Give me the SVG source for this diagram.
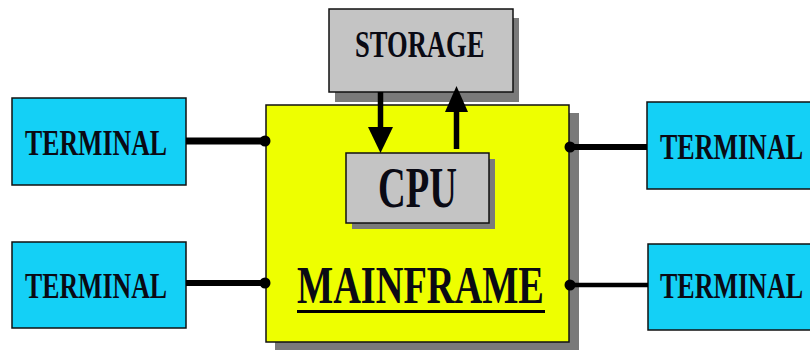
<svg xmlns="http://www.w3.org/2000/svg" width="810" height="358" viewBox="0 0 810 358">
  <style>
    .box { stroke: #111; stroke-width: 1.5; }
    .term { fill: #14D0F6; }
    .gray { fill: #C4C4C4; }
    .main { fill: #EEFF00; }
    .shadow { fill: #7A7A7A; }
    .lbl { font-family: "Liberation Serif", "Times New Roman", serif; font-weight: bold; fill: #0a0a14; }
    .wire { stroke: #000; fill: none; }
    .dot, .tip { fill: #000; }
  </style>
  <rect width="810" height="358" fill="#fff"/>

  <g id="mainframe">
    <rect class="shadow" x="275" y="113" width="304" height="237"/>
    <rect class="box main" x="266" y="105" width="303" height="237"/>
    <text class="lbl" font-size="53" transform="translate(297,303) scale(0.723,1)">MAINFRAME</text>
    <rect x="297" y="310" width="248" height="3" fill="#000"/>
  </g>

  <g id="storage">
    <rect class="shadow" x="335" y="18" width="184" height="84"/>
    <rect class="box gray" x="329" y="9" width="184" height="83"/>
    <text class="lbl" font-size="37" transform="translate(355,57) scale(0.718,1)">STORAGE</text>
  </g>

  <g id="cpu">
    <rect class="shadow" x="352" y="159" width="143" height="70"/>
    <rect class="box gray" x="346" y="153" width="143" height="70"/>
    <text class="lbl" font-size="56" transform="translate(378,207) scale(0.686,1)">CPU</text>
  </g>

  <g id="terminal-left-top">
    <rect class="box term" x="12" y="98" width="174" height="87"/>
    <text class="lbl" font-size="35" transform="translate(25,155) scale(0.738,1)">TERMINAL</text>
  </g>
  <g id="terminal-left-bottom">
    <rect class="box term" x="12" y="242" width="174" height="86"/>
    <text class="lbl" font-size="35" transform="translate(25,298) scale(0.738,1)">TERMINAL</text>
  </g>
  <g id="terminal-right-top">
    <rect class="box term" x="647" y="102" width="170" height="87"/>
    <text class="lbl" font-size="35" transform="translate(660,159) scale(0.743,1)">TERMINAL</text>
  </g>
  <g id="terminal-right-bottom">
    <rect class="box term" x="648" y="244" width="170" height="86"/>
    <text class="lbl" font-size="35" transform="translate(660,298) scale(0.743,1)">TERMINAL</text>
  </g>

  <g id="connectors">
    <!-- terminal links -->
    <line class="wire" x1="186" y1="141" x2="265" y2="141" stroke-width="7"/>
    <circle class="dot" cx="265" cy="141" r="5.5"/>
    <line class="wire" x1="186" y1="283" x2="265" y2="283" stroke-width="6"/>
    <circle class="dot" cx="265" cy="283" r="5.5"/>
    <line class="wire" x1="570" y1="147" x2="647" y2="147" stroke-width="6"/>
    <circle class="dot" cx="570" cy="147" r="5.5"/>
    <line class="wire" x1="570" y1="285" x2="648" y2="285" stroke-width="4.5"/>
    <circle class="dot" cx="570" cy="285" r="5.5"/>
    <!-- storage to cpu -->
    <line class="wire" x1="380.5" y1="92" x2="380.5" y2="129" stroke-width="5.5"/>
    <polygon class="tip" points="368,127 393,127 380.5,153"/>
    <!-- cpu to storage -->
    <line class="wire" x1="456.5" y1="149" x2="456.5" y2="110" stroke-width="5.5"/>
    <polygon class="tip" points="445,112 468,112 456.5,86"/>
  </g>
</svg>
